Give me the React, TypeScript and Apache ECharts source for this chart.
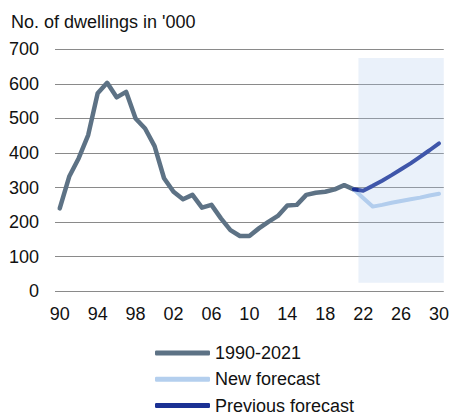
import React, { useEffect, useRef } from "react";
import * as echarts from "echarts";

const years: number[] = [];
for (let y = 1990; y <= 2030; y++) years.push(y);

const history = [
  240, 332, 385, 452, 573, 603, 561, 577, 500, 471, 420, 327, 288, 266, 279, 242,
  250, 211, 177, 160, 160, 182, 201, 218, 248, 250, 279, 285, 288, 295, 307, 295,
];
const newForecast = [295, 270, 245, 250, 256, 261, 266, 271, 277, 282];
const prevForecast = [295, 291, 305, 320, 336, 353, 370, 389, 408, 428];
const forecastStart = 2021;
const shadeRange = { x0: 2021.5, x1: 2030.5, y0: 25, y1: 675 };

const FONT = "Arial, 'Liberation Sans', Helvetica, sans-serif";

function pad(series: number[], start: number): (number | null)[] {
  return years.map((y) => {
    const i = y - start;
    return i >= 0 && i < series.length ? series[i] : null;
  });
}

export default function App() {
  const ref = useRef<HTMLDivElement>(null);
  useEffect(() => {
    if (!ref.current) return;
    const chart = echarts.init(ref.current, null, { renderer: "svg" });
    chart.setOption({
      animation: false,
      textStyle: { fontFamily: FONT },
      title: {
        text: "No. of dwellings in '000",
        left: 6,
        top: 8,
        textStyle: { fontFamily: FONT, fontSize: 18, fontWeight: "normal", color: "#111" },
      },
      grid: { left: 55, right: 5, top: 49.3, bottom: 122.7 },
      legend: {
        orient: "vertical",
        left: 155,
        top: 344,
        height: 120,
        padding: 0,
        itemWidth: 55,
        itemHeight: 5,
        itemGap: 8.3,
        icon: "roundRect",
        textStyle: { fontFamily: FONT, fontSize: 18, color: "#111", lineHeight: 18, padding: [0, 0, 0, 0] },
        data: ["1990-2021", "New forecast", "Previous forecast"],
      },
      xAxis: [
        {
          type: "category",
          data: years.map(String),
          boundaryGap: true,
          axisLine: { show: false },
          axisTick: { show: false },
          axisLabel: {
            interval: 3,
            margin: 14,
            fontSize: 18,
            color: "#111",
            fontFamily: FONT,
            formatter: (v: string) => v.slice(2),
          },
        },
        {
          type: "value",
          min: 1989.5,
          max: 2030.5,
          show: false,
          splitLine: { show: false },
        },
      ],
      yAxis: {
        type: "value",
        min: 0,
        max: 700,
        interval: 100,
        axisLine: { show: false },
        axisTick: { show: false },
        axisLabel: { fontSize: 18, color: "#111", margin: 16, fontFamily: FONT },
        splitLine: { lineStyle: { color: "#8a8a8a", width: 1 } },
      },
      series: [
        {
          name: "1990-2021",
          type: "line",
          data: pad(history, 1990),
          showSymbol: false,
          symbol: "none",
          color: "#5d7285",
          lineStyle: { width: 4.5, color: "#5d7285", cap: "round", join: "round" },
          z: 2,
        },
        {
          name: "New forecast",
          type: "line",
          data: pad(newForecast, forecastStart),
          showSymbol: false,
          symbol: "none",
          color: "#b4cfee",
          lineStyle: { width: 4, color: "#b4cfee", cap: "round", join: "round" },
          z: 3,
        },
        {
          name: "Previous forecast",
          type: "line",
          data: pad(prevForecast, forecastStart),
          showSymbol: false,
          symbol: "none",
          color: "#1b3194",
          lineStyle: { width: 4, color: "#1b3194", cap: "round", join: "round" },
          z: 4,
        },
        {
          name: "shade",
          type: "line",
          xAxisIndex: 1,
          data: [],
          silent: true,
          z: 10,
          markArea: {
            silent: true,
            z: 10,
            itemStyle: { color: "rgba(171,199,235,0.25)" },
            data: [
              [
                { coord: [shadeRange.x0, shadeRange.y0] },
                { coord: [shadeRange.x1, shadeRange.y1] },
              ],
            ],
          },
        },
      ],
    });
    return () => chart.dispose();
  }, []);
  return <div ref={ref} style={{ width: 452, height: 414, position: "absolute", left: 0, top: 0 }} />;
}
